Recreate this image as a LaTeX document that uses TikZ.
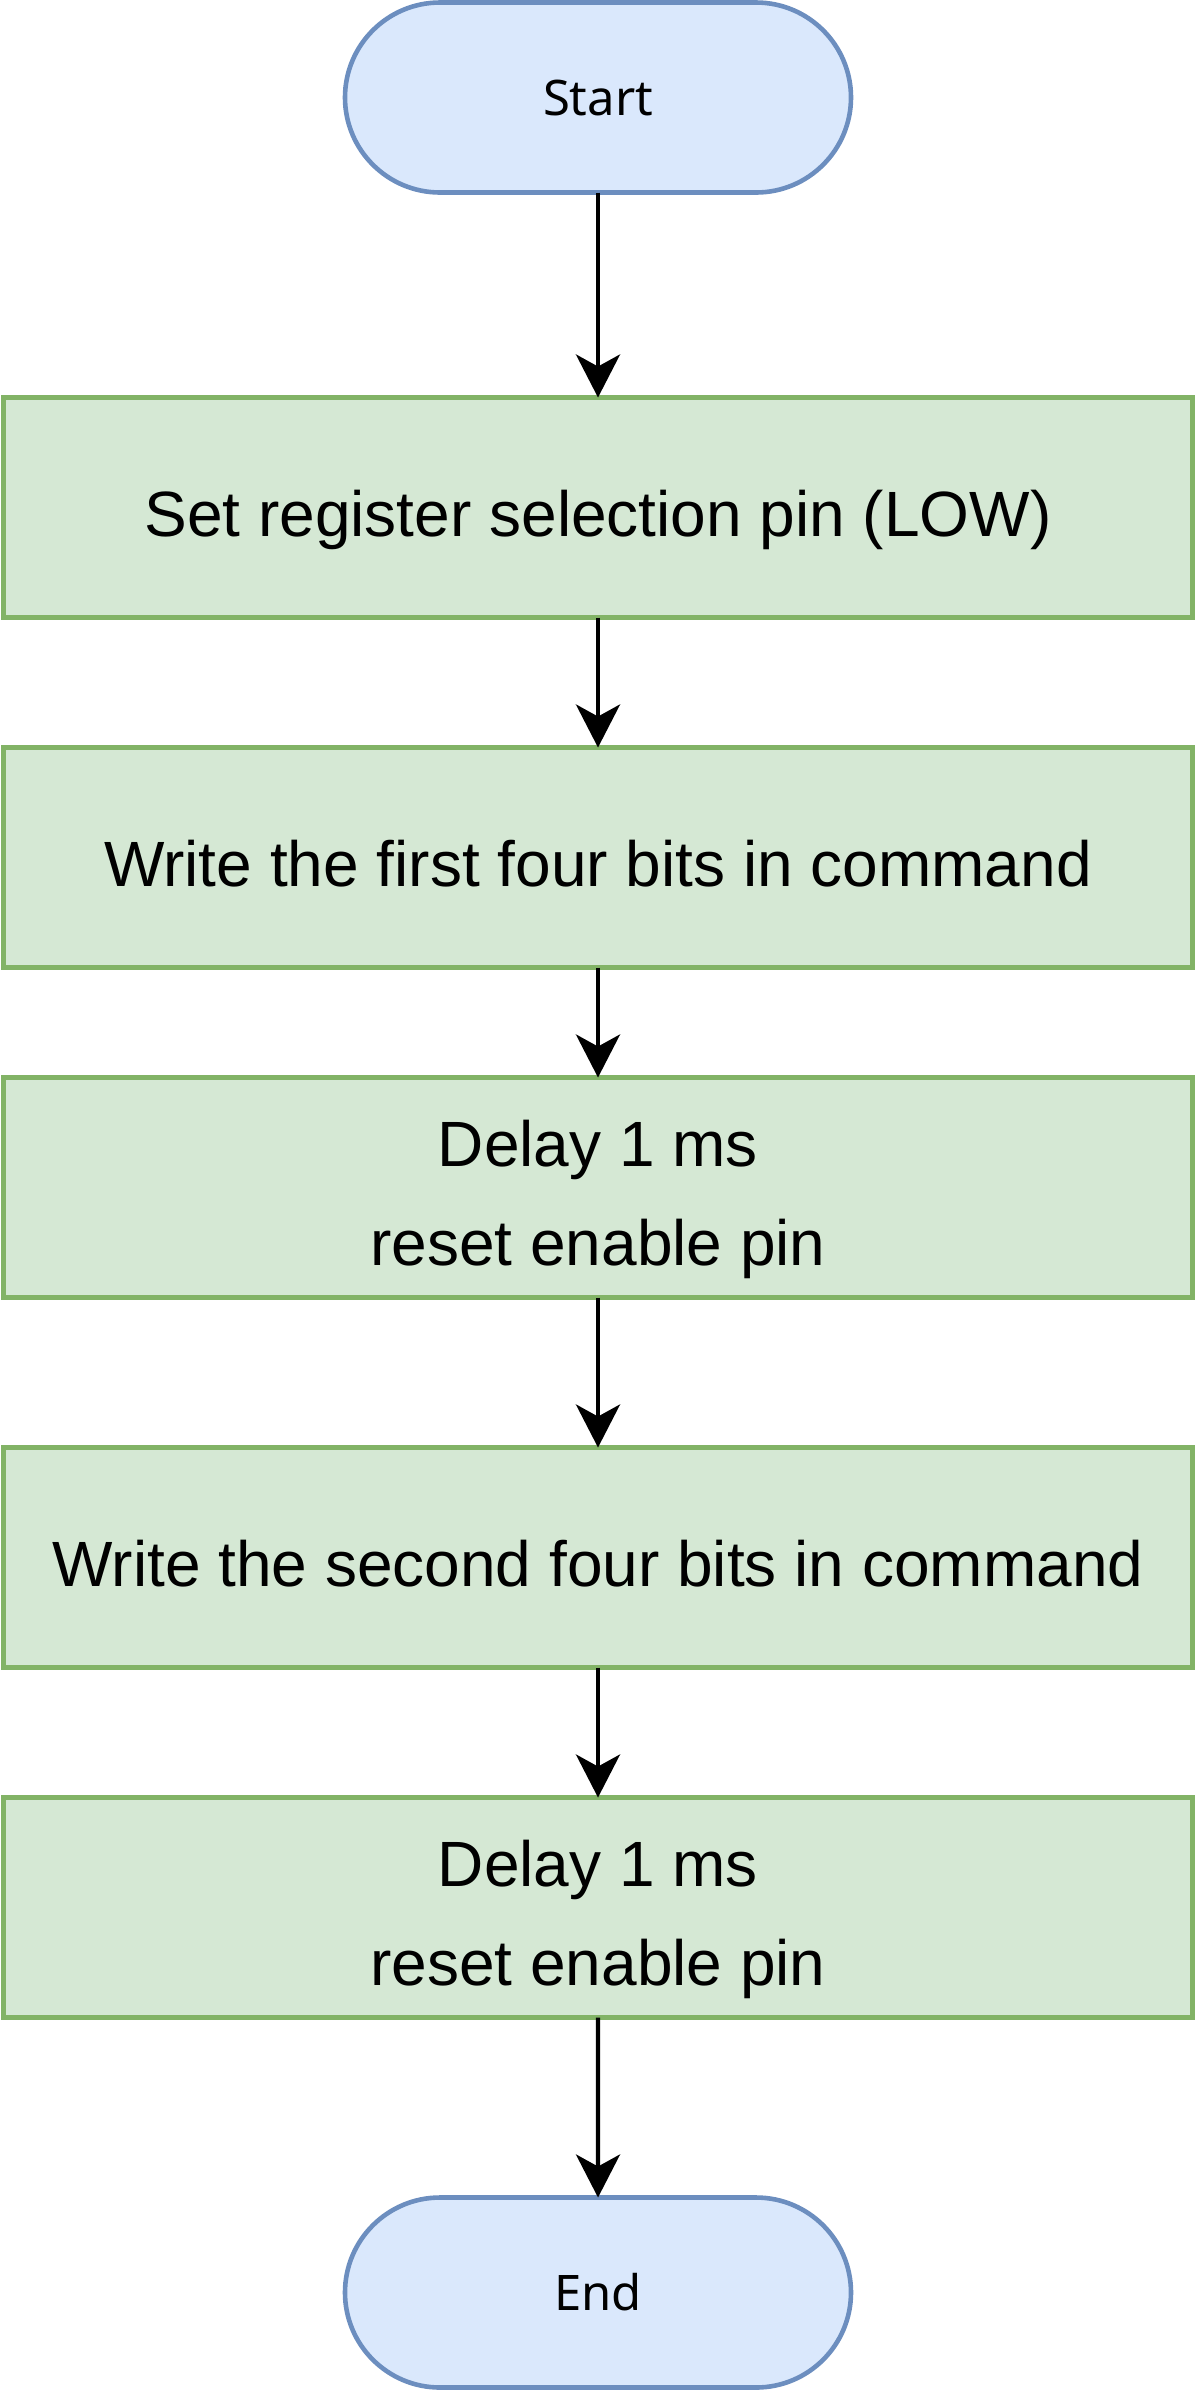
\documentclass[tikz,border=0pt]{standalone}
\usepackage{fontspec}
\setmainfont{Liberation Sans}
\newfontfamily\termfont{Noto Sans}
\usetikzlibrary{shapes, shapes.geometric, arrows.meta, positioning}
\definecolor{termfill}{HTML}{DAE8FC}
\definecolor{termdraw}{HTML}{6C8EBF}
\definecolor{stepfill}{HTML}{D5E8D4}
\definecolor{stepdraw}{HTML}{82B366}

\begin{document}
\begin{tikzpicture}[
  terminal/.style={rounded rectangle, draw=termdraw, fill=termfill, line width=2.3pt,
    minimum width=253pt, minimum height=95pt, font=\termfont\fontsize{24.5}{29}\selectfont},
  stepbox/.style={rectangle, draw=stepdraw, fill=stepfill, line width=2.3pt,
    minimum width=594.5pt, minimum height=110pt, align=center,
    text height=29pt, text depth=0pt, font=\fontsize{32}{49.5}\selectfont},
  twoline/.style={text height=77.5pt, text depth=0pt},
  outer sep=0pt, inner sep=0pt]

  \useasboundingbox (0,0) rectangle (597.5pt,-1195pt);

  \node[terminal] (start) at (299pt,-48.75pt) {Start};
  \node[stepbox, below=102.5pt of start] (rs) {Set register selection pin (LOW)};
  \node[stepbox, below=65pt of rs] (first) {Write the first four bits in command};
  \node[stepbox, twoline, below=55pt of first] (delayA) {Delay 1 ms\\reset enable pin};
  \node[stepbox, below=75pt of delayA] (second) {Write the second four bits in command};
  \node[stepbox, twoline, below=65pt of second] (delayB) {Delay 1 ms\\reset enable pin};
  \node[terminal, below=90pt of delayB] (finish) {End};

  \path[-{Stealth[length=21.5pt, width=22pt, inset=6pt]}, line width=2.2pt]
    (start) edge (rs)
    (rs) edge (first)
    (first) edge (delayA)
    (delayA) edge (second)
    (second) edge (delayB)
    (delayB) edge (finish);
\end{tikzpicture}
\end{document}
